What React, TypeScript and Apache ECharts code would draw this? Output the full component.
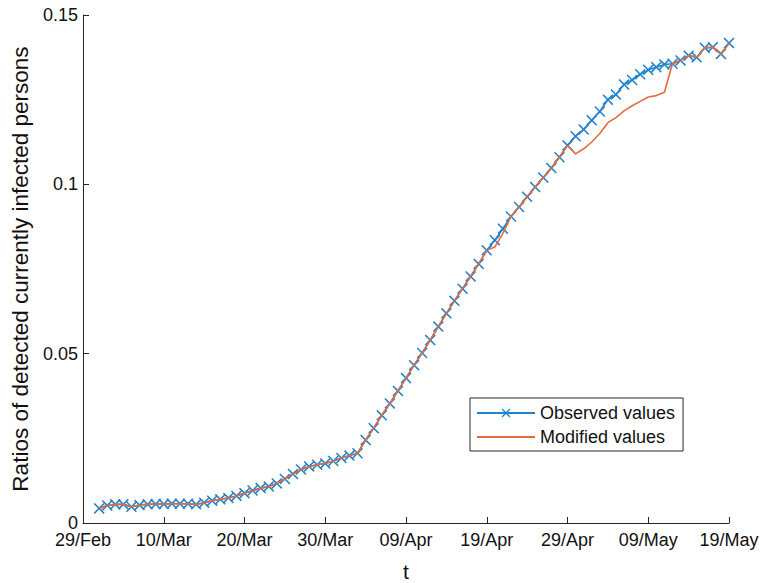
import React, { useEffect, useRef } from "react";
import * as echarts from "echarts";

// Day index 0 = 29/Feb; observations start on day 2 (02/Mar)
const startDay = 2;
const tickLabels = ["29/Feb", "10/Mar", "20/Mar", "30/Mar", "09/Apr", "19/Apr", "29/Apr", "09/May", "19/May"];
const observedValues = [
  0.0043, 0.0052, 0.0055, 0.0055, 0.0048, 0.0053, 0.0055, 0.0056, 0.0056, 0.0057,
  0.0057, 0.0057, 0.0055, 0.006, 0.0066, 0.007, 0.0074, 0.008, 0.0088, 0.0096,
  0.0103, 0.0108, 0.0117, 0.013, 0.0145, 0.0158, 0.0167, 0.0172, 0.0176, 0.0183,
  0.0192, 0.0199, 0.0206, 0.0245, 0.028, 0.0318, 0.0353, 0.039, 0.0428, 0.0466,
  0.0502, 0.054, 0.058, 0.0619, 0.0656, 0.0692, 0.0728, 0.0765, 0.0805, 0.0835,
  0.0869, 0.0905, 0.0933, 0.0963, 0.0992, 0.102, 0.1048, 0.108, 0.1115, 0.1142,
  0.1162, 0.1189, 0.1215, 0.125, 0.1265, 0.1295, 0.1308, 0.1325, 0.1338, 0.1346,
  0.1354, 0.1356, 0.1366, 0.138, 0.1375, 0.1403, 0.1405, 0.1385, 0.1417,
];
const modifiedValues = [
  0.0043, 0.0052, 0.0055, 0.0055, 0.0048, 0.0053, 0.0055, 0.0056, 0.0056, 0.0057,
  0.0057, 0.0057, 0.0055, 0.006, 0.0066, 0.007, 0.0074, 0.008, 0.0088, 0.0096,
  0.0103, 0.0108, 0.0117, 0.013, 0.0145, 0.0158, 0.0167, 0.0172, 0.0176, 0.0183,
  0.0192, 0.0199, 0.0206, 0.0245, 0.028, 0.0318, 0.0353, 0.039, 0.0428, 0.0466,
  0.0502, 0.054, 0.058, 0.0619, 0.0656, 0.0692, 0.0728, 0.0765, 0.0805, 0.0815,
  0.0855, 0.0905, 0.0933, 0.0963, 0.0992, 0.102, 0.1048, 0.108, 0.1115, 0.109,
  0.1105, 0.1125, 0.115, 0.1182, 0.1197, 0.1217, 0.1232, 0.1245, 0.1258, 0.1262,
  0.1272, 0.1356, 0.1366, 0.138, 0.1375, 0.1403, 0.1405, 0.1385, 0.1417,
];

const blue = "#2283cc";
const orange = "#e36c3c";
const axisColor = "#262626";
const xSymbol = "path://M0,1L1,0L5,4L9,0L10,1L6,5L10,9L9,10L5,6L1,10L0,9L4,5Z";

export default function App() {
  const ref = useRef<HTMLDivElement>(null);
  useEffect(() => {
    if (!ref.current) return;
    const chart = echarts.init(ref.current, undefined, { renderer: "svg" });
    const toPairs = (vals: number[]) => vals.map((v, i) => [startDay + i, v]);
    const font = "Liberation Sans, Arial, Helvetica, sans-serif";
    chart.setOption({
      animation: false,
      backgroundColor: "#ffffff",
      grid: { left: 83, right: 37, top: 15, bottom: 60, containLabel: false, outerBoundsMode: "none" },
      xAxis: {
        type: "value",
        min: 0,
        max: 80,
        interval: 10,
        name: "t",
        nameLocation: "middle",
        nameGap: 38,
        nameTextStyle: { color: "#111", fontSize: 21, fontFamily: font, lineHeight: 21 },
        axisLine: { show: true, lineStyle: { color: axisColor, width: 1 } },
        axisTick: { show: true, inside: true, length: 6, lineStyle: { color: axisColor } },
        axisLabel: {
          color: "#111",
          fontSize: 18,
          fontFamily: font,
          margin: 8,
          formatter: (v: number) => tickLabels[Math.round(v / 10)] ?? "",
        },
        splitLine: { show: false },
      },
      yAxis: {
        type: "value",
        min: 0,
        max: 0.15,
        interval: 0.05,
        name: "Ratios of detected currently infected persons",
        nameLocation: "middle",
        nameGap: 51,
        nameTextStyle: { color: "#111", fontSize: 22.5, fontFamily: font },
        axisLine: { show: true, lineStyle: { color: axisColor, width: 1 } },
        axisTick: { show: true, inside: true, length: 6, lineStyle: { color: axisColor } },
        axisLabel: { color: "#111", fontSize: 18, fontFamily: font, margin: 5 },
        splitLine: { show: false },
      },
      legend: {
        orient: "vertical",
        left: 470,
        top: 398,
        padding: [6, 8, 5, 6],
        itemGap: 6,
        itemWidth: 58,
        itemHeight: 11,
        backgroundColor: "#ffffff",
        borderColor: axisColor,
        borderWidth: 1,
        borderRadius: 0,
        textStyle: { color: "#111", fontSize: 18, fontFamily: font, padding: [0, 0, 0, 0] },
        data: [
          { name: "Observed values" },
          { name: "Modified values", itemStyle: { opacity: 0 } },
        ],
      },
      series: [
        {
          name: "Observed values",
          type: "line",
          data: toPairs(observedValues),
          symbol: xSymbol,
          symbolSize: 11,
          showSymbol: true,
          itemStyle: { color: blue },
          lineStyle: { color: blue, width: 1.6 },
          z: 2,
        },
        {
          name: "Modified values",
          type: "line",
          data: toPairs(modifiedValues),
          symbol: "none",
          itemStyle: { color: orange },
          lineStyle: { color: orange, width: 1.6 },
          z: 3,
        },
      ],
    });
    return () => chart.dispose();
  }, []);
  return (
    <div
      ref={ref}
      style={{ width: 766, height: 583, position: "absolute", left: 0, top: 0, overflow: "hidden" }}
    />
  );
}
